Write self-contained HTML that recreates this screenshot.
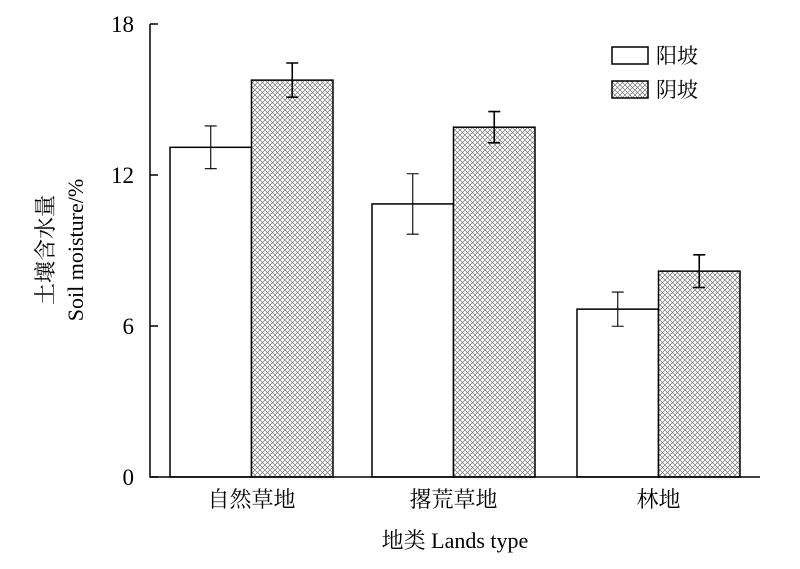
<!DOCTYPE html>
<html><head><meta charset="utf-8"><style>
body{margin:0;background:#fff}
svg text{font-family:"Liberation Serif","Noto Serif CJK SC","Noto Sans CJK SC",serif;fill:#000}
</style></head><body>
<svg width="800" height="564" viewBox="0 0 800 564">
<defs>
<pattern id="hatch" width="5" height="5" patternUnits="userSpaceOnUse">
<rect width="5" height="5" fill="#fff"/>
<path d="M0,0L5,5M-1,4L1,6M4,-1L6,1" stroke="#777" stroke-width="0.7"/>
<path d="M5,0L0,5M-1,1L1,-1M4,6L6,4" stroke="#777" stroke-width="0.7"/>
</pattern>
</defs>
<g id="plot"></g>
<text x="455" y="548" font-size="22" text-anchor="middle">地类 Lands type</text>
<g transform="translate(66,250) rotate(-90)">
<text x="0" y="-13" font-size="22" text-anchor="middle">土壤含水量</text>
<text x="0" y="17" font-size="22" text-anchor="middle">Soil moisture/%</text>
</g>
<g>
<rect x="612" y="47" width="36" height="17" fill="#fff" stroke="#000" stroke-width="1.5"/>
<text x="656" y="63" font-size="21">阳坡</text>
<rect x="612" y="81" width="36" height="17" fill="url(#hatch)" stroke="#000" stroke-width="1.5"/>
<text x="656" y="97" font-size="21">阴坡</text>
</g>
</svg>
<script>
const categories=["自然草地","撂荒草地","林地"];
const sunny=[13.1,10.85,6.67];
const sunnyErr=[0.85,1.2,0.68];
const shady=[15.77,13.9,8.18];
const shadyErr=[0.68,0.62,0.65];
const yTicks=[0,6,12,18];
const NS="http://www.w3.org/2000/svg";
const g=document.getElementById('plot');
const y0=477,yTop=24,ymax=18;
const y=v=>y0-(v/ymax)*(y0-yTop);
const groupStart=[170,372,577],bw=81.5;
function mk(t,a){const e=document.createElementNS(NS,t);for(const k in a)e.setAttribute(k,a[k]);g.appendChild(e);return e;}
categories.forEach((c,i)=>{
 const x=groupStart[i];
 [[sunny,sunnyErr,'#fff','sunny'],[shady,shadyErr,'url(#hatch)','shady']].forEach((s,j)=>{
  const bx=x+j*bw,v=s[0][i],er=s[1][i];
  const r=mk('rect',{x:bx,y:y(v),width:bw,height:y0-y(v),fill:s[2],stroke:'#000','stroke-width':1.5});
  
  
  const cx=bx+bw/2;
  const eb=mk('path',{d:`M${cx},${y(v+er)}V${y(v-er)}M${cx-6},${y(v+er)}H${cx+6}M${cx-6},${y(v-er)}H${cx+6}`,stroke:'#000','stroke-width':j?1.6:1.1,fill:'none'});
  
  
 });
 const t=mk('text',{x:x+bw,y:507,'font-size':22,'text-anchor':'middle'});
 t.textContent=c;
 
 
});
const ax=mk('path',{d:`M150,${yTop}V${y0}H760`,stroke:'#000','stroke-width':1.5,fill:'none'});


yTicks.forEach(v=>{
 const tk=mk('path',{d:`M150,${y(v)}H158`,stroke:'#000','stroke-width':1.5});
 
 
 const t=mk('text',{x:134,y:y(v)+8,'font-size':23,'text-anchor':'end'});
 t.textContent=v;
 
 
});
</script>
</body></html>
